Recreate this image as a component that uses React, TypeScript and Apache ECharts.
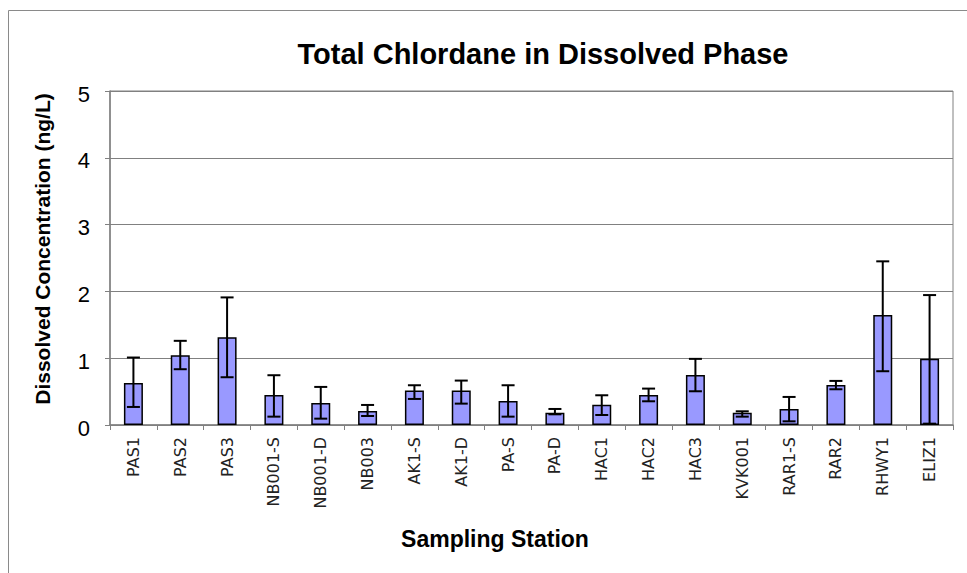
import React, { useEffect, useRef } from "react";
import * as echarts from "echarts";

const stations = ["PAS1", "PAS2", "PAS3", "NB001-S", "NB001-D", "NB003", "AK1-S", "AK1-D", "PA-S", "PA-D", "HAC1", "HAC2", "HAC3", "KVK001", "RAR1-S", "RAR2", "RHWY1", "ELIZ1"];
const meanValues = [0.63, 1.045, 1.315, 0.45, 0.33, 0.21, 0.515, 0.515, 0.36, 0.185, 0.305, 0.45, 0.75, 0.185, 0.24, 0.6, 1.645, 0.99];
const errLow = [0.27, 0.835, 0.715, 0.125, 0.095, 0.135, 0.39, 0.32, 0.125, 0.16, 0.15, 0.355, 0.505, 0.125, 0.055, 0.535, 0.805, 0.02];
const errHigh = [1.01, 1.26, 1.91, 0.745, 0.57, 0.3, 0.595, 0.665, 0.595, 0.24, 0.445, 0.545, 0.99, 0.205, 0.42, 0.66, 2.45, 1.945];
const yTicks = [0, 1, 2, 3, 4, 5];
const titleText = "Total Chlordane in Dissolved Phase";
const xName = "Sampling Station";
const yName = "Dissolved Concentration (ng/L)";

const boldFont = "Liberation Sans, Arial, sans-serif";

export default function App() {
  const ref = useRef<HTMLDivElement>(null);
  useEffect(() => {
    if (!ref.current) return;
    const chart = echarts.init(ref.current, null, { renderer: "svg" });
    const errData = stations.map((_, i) => [i, errLow[i], errHigh[i]]);
    chart.setOption({
      animation: false,
      backgroundColor: "#ffffff",
      graphic: [
        {
          type: "rect",
          shape: { x: 8.5, y: 10.5, width: 1000, height: 1000 },
          style: { fill: "none", stroke: "#8a8a8a", lineWidth: 1 },
          silent: true,
        },
        {
          type: "text",
          x: 543,
          y: 54,
          style: {
            text: titleText,
            fontFamily: boldFont,
            fontWeight: "bold",
            fontSize: 29,
            fill: "#000",
            align: "center",
            verticalAlign: "middle",
          },
        },
        {
          type: "text",
          x: 495,
          y: 539,
          style: {
            text: xName,
            fontFamily: boldFont,
            fontWeight: "bold",
            fontSize: 23,
            fill: "#000",
            align: "center",
            verticalAlign: "middle",
          },
        },
        {
          type: "text",
          x: 42,
          y: 249,
          rotation: Math.PI / 2,
          style: {
            text: yName,
            fontFamily: boldFont,
            fontWeight: "bold",
            fontSize: 21,
            fill: "#000",
            align: "center",
            verticalAlign: "middle",
          },
        },
      ],
      grid: {
        left: 110,
        right: 14,
        top: 91,
        bottom: 148,
        show: true,
        borderColor: "#808080",
        borderWidth: 1,
        backgroundColor: "transparent",
      },
      xAxis: {
        type: "category",
        data: stations,
        axisLine: { lineStyle: { color: "#808080", width: 1.5 } },
        axisTick: { show: true, length: 5, lineStyle: { color: "#808080" } },
        axisLabel: {
          rotate: 90,
          margin: 12,
          interval: 0,
          fontFamily: "DejaVu Sans, sans-serif",
          fontSize: 16,
          color: "#222",
        },
      },
      yAxis: {
        type: "value",
        min: 0,
        max: 5,
        interval: 1,
        axisLine: { show: true, lineStyle: { color: "#808080", width: 1.5 } },
        axisTick: { show: true, length: 5, inside: false, lineStyle: { color: "#808080" } },
        axisLabel: {
          margin: 20,
          fontFamily: boldFont,
          fontSize: 22,
          color: "#000",
          verticalAlign: "top",
          padding: [-8, 0, 0, 0],
          formatter: (v: number) => (yTicks.includes(v) ? String(v) : ""),
        },
        splitLine: { show: true, lineStyle: { color: "#808080", width: 1 } },
      },
      series: [
        {
          type: "bar",
          data: meanValues,
          barWidth: 19,
          itemStyle: { color: "#9999ff", borderColor: "#000", borderWidth: 1.5 },
          z: 2,
        },
        {
          type: "custom",
          data: errData,
          z: 3,
          encode: { x: 0, y: [1, 2] },
          renderItem: (params: any, api: any) => {
            const x = api.value(0);
            const lo = api.coord([x, api.value(1)]);
            const hi = api.coord([x, api.value(2)]);
            const half = 6.5;
            const style = { stroke: "#000", lineWidth: 2, fill: "none" };
            return {
              type: "group",
              children: [
                { type: "line", shape: { x1: lo[0], y1: lo[1], x2: hi[0], y2: hi[1] }, style },
                { type: "line", shape: { x1: hi[0] - half, y1: hi[1], x2: hi[0] + half, y2: hi[1] }, style },
                { type: "line", shape: { x1: lo[0] - half, y1: lo[1], x2: lo[0] + half, y2: lo[1] }, style },
              ],
            };
          },
        },
      ],
    });
    return () => chart.dispose();
  }, []);
  return <div ref={ref} style={{ position: "fixed", left: 0, top: 0, width: 967, height: 573 }} />;
}
